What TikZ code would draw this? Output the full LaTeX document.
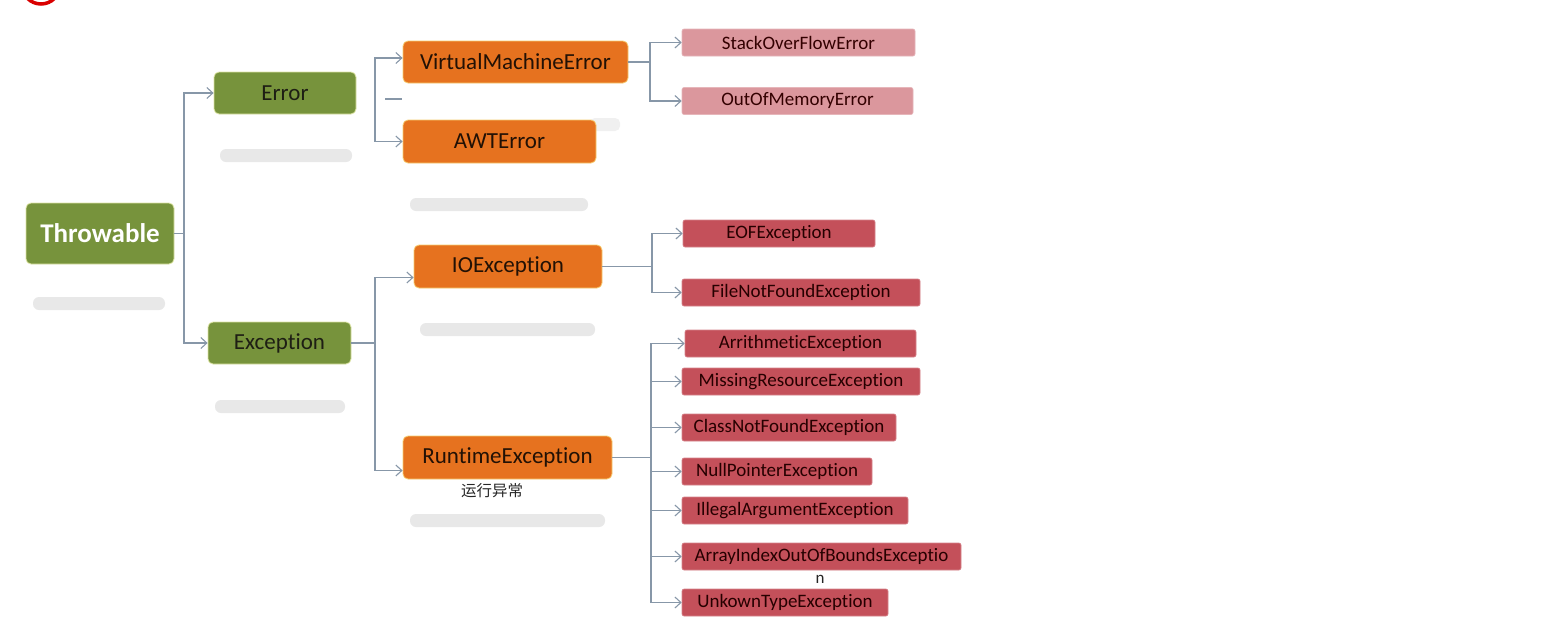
\documentclass[tikz,border=0pt]{standalone}
\usepackage{fontspec}
\setmainfont{Carlito}[Ligatures=NoCommon]
\newfontfamily\cjk{Noto Sans CJK SC}
\usetikzlibrary{arrows.meta}
\definecolor{grn}{HTML}{77933C}
\definecolor{org}{HTML}{E6721F}
\definecolor{pnk}{HTML}{DB979D}
\definecolor{rd}{HTML}{C4505A}
\definecolor{ln}{HTML}{8797A8}
\definecolor{txt}{HTML}{1E1E14}
\tikzset{
  box/.style={rounded corners=5pt, inner sep=0pt, anchor=center, text=txt},
  big/.style={box, fill=grn, draw=grn!60!yellow!40, line width=0.8pt, font=\fontsize{27}{30}\selectfont\bfseries, text=white},
  gbox/.style={box, fill=grn, draw=grn!60!yellow!40, line width=0.8pt, font=\fontsize{23}{26}\selectfont},
  obox/.style={box, fill=org, draw=org!60!yellow!60, line width=0.8pt, font=\fontsize{23}{26}\selectfont, text=black!85!org},
  pbox/.style={box, rounded corners=2pt, fill=pnk, draw=pnk!70!white, line width=0.6pt, font=\fontsize{19}{21}\selectfont, text=black!80!red},
  rbox/.style={box, rounded corners=2pt, fill=rd, draw=rd!70!white, line width=0.6pt, font=\fontsize{19}{21}\selectfont, text=black!85!red},
  conn/.style={draw=ln, line width=1.1pt},
  arr/.style={conn, -{Straight Barb[length=6pt,width=11pt,line width=1.1pt]}},
  shd/.style={fill=black!9, rounded corners=6pt},
}
\begin{document}
\begin{tikzpicture}[x=1pt,y=-1pt]
\useasboundingbox (0,0) rectangle (1562,632);
\fill[white] (0,0) rectangle (1562,632);
% logo fragment
\begin{scope}
\clip (0,0) rectangle (1562,632);
\draw[red!85!black, line width=3.5pt] (41,-15) circle (19);
\end{scope}
% blurred shadows
\fill[shd] (33,297) rectangle (165,310);
\fill[shd] (220,149) rectangle (352,162);
\fill[shd] (410,198) rectangle (588,211);
\fill[shd] (420,323) rectangle (595,336);
\fill[shd] (215,400) rectangle (345,413);
\fill[shd] (410,514) rectangle (605,527);
\fill[black!6, rounded corners=5pt] (590,118) rectangle (620,131);

% nodes
\node[big, minimum width=148pt, minimum height=61pt] (thr) at (100,233.5) {Throwable};
\node[gbox, minimum width=142pt, minimum height=42pt] (err) at (285,93) {Error};
\node[gbox, minimum width=143pt, minimum height=42pt] (exc) at (279.5,343) {Exception};
\node[obox, minimum width=225pt, minimum height=42pt] (vme) at (515.5,62) {VirtualMachineError};
\node[obox, minimum width=193pt, minimum height=43pt] (awt) at (499.5,141.5) {AWTError};
\node[obox, minimum width=188pt, minimum height=43pt] (ioe) at (508,266.5) {IOException};
\node[obox, minimum width=209pt, minimum height=43pt] (rte) at (507.5,457.5) {RuntimeException};

\node[pbox, minimum width=233pt, minimum height=27pt] (so) at (798.5,42.5) {StackOverFlowError};
\node[pbox, minimum width=231pt, minimum height=27pt] (oom) at (797.5,101) {OutOfMemoryError};
\node[rbox, minimum width=192pt, minimum height=27pt] (eof) at (779,233.5) {EOFException};
\node[rbox, minimum width=238pt, minimum height=27pt] (fnf) at (801,292.5) {FileNotFoundException};
\node[rbox, minimum width=231pt, minimum height=27pt] (ari) at (800.5,343.5) {ArrithmeticException};
\node[rbox, minimum width=238pt, minimum height=27pt] (mre) at (801,381.5) {MissingResourceException};
\node[rbox, minimum width=214pt, minimum height=27pt] (cnf) at (789,427.5) {ClassNotFoundException};
\node[rbox, minimum width=190pt, minimum height=27pt] (npe) at (777,471.5) {NullPointerException};
\node[rbox, minimum width=226pt, minimum height=27pt] (iae) at (795,510.5) {IllegalArgumentException};
\node[rbox, minimum width=279pt, minimum height=27pt] (aio) at (821.5,556.5) {ArrayIndexOutOfBoundsExceptio};
\node[rbox, minimum width=206pt, minimum height=27pt] (ute) at (785,602.5) {UnkownTypeException};

\node[font=\fontsize{17}{19}\selectfont, text=black!85, inner sep=0pt] (nlbl) at (820,579) {n};
\node[font=\cjk\fontsize{15.5}{17}\selectfont, text=black!85, inner sep=0pt] (rtlbl) at (492,491) {运行异常};

% connectors
\coordinate (j1) at (184,233.5);
\draw[conn] (thr.east) -- (j1);
\draw[arr] (j1) |- (err.west);
\draw[arr] (j1) |- (exc.west);

\coordinate (j2) at (375,99);
\draw[arr] (j2) |- ([yshift=4pt]vme.west);
\draw[arr] (j2) |- (awt.west);
\draw[conn] (385,99) -- (402,99);

\coordinate (j3) at (650,62);
\draw[conn] (vme.east) -- (j3);
\draw[arr] (j3) |- (so.west);
\draw[arr] (j3) |- (oom.west);

\coordinate (j4) at (375,343);
\draw[conn] (exc.east) -- (j4);
\draw[arr] (j4) |- ([yshift=-11pt]ioe.west);
\draw[arr] (j4) |- ([yshift=-13pt]rte.west);

\coordinate (j5) at (652,266.5);
\draw[conn] (ioe.east) -- (j5);
\draw[arr] (j5) |- (eof.west);
\draw[arr] (j5) |- (fnf.west);

\coordinate (j6) at (651,457.5);
\draw[conn] (rte.east) -- (j6);
\foreach \n in {ari,mre,cnf,npe,iae,aio,ute} {
  \draw[arr] (j6) |- (\n.west);
}
\end{tikzpicture}
\end{document}
